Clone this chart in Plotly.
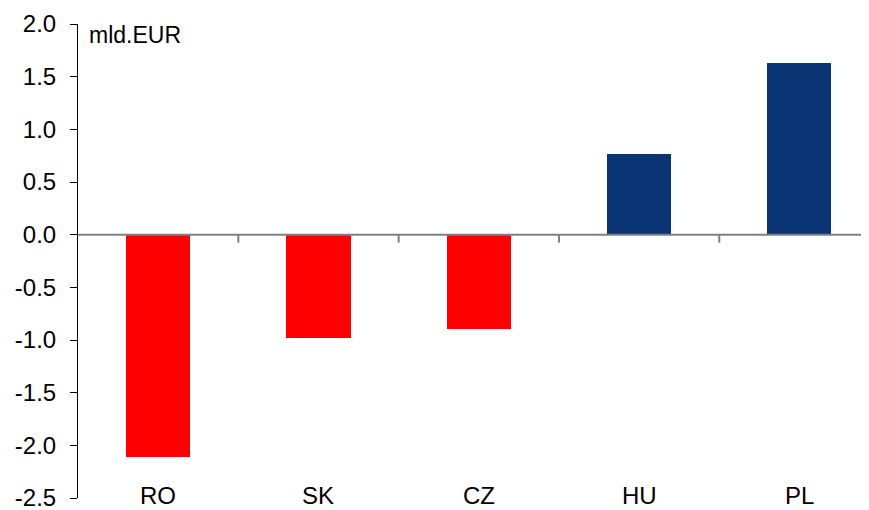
import plotly.graph_objects as go

categories = ["RO", "SK", "CZ", "HU", "PL"]
values = [-2.11, -0.98, -0.90, 0.77, 1.63]
y_ticks = [2.0, 1.5, 1.0, 0.5, 0.0, -0.5, -1.0, -1.5, -2.0, -2.5]
unit_label = "mld.EUR"

RED = "#FF0000"
NAVY = "#0A3474"
colors = [RED if v < 0 else NAVY for v in values]
FONT = "Arial, Liberation Sans, sans-serif"

fig = go.Figure()
fig.add_trace(go.Bar(
    x=list(range(len(categories))), y=values,
    marker=dict(color=colors, line=dict(width=0)),
    width=0.4, showlegend=False,
))

# zero line with category separator ticks
shapes = [dict(type="line", xref="paper", yref="y", x0=0, x1=1, y0=0, y1=0,
               line=dict(color="#808080", width=2), layer="above")]
for i in range(len(categories) - 1):
    shapes.append(dict(type="line", xref="x", yref="y", x0=i + 0.5, x1=i + 0.5,
                       ysizemode="pixel", yanchor=0, y0=0, y1=-8,
                       line=dict(color="#808080", width=2)))

annotations = [dict(x=i, y=y_ticks[-1], xref="x", yref="y", text=c, showarrow=False,
                    yanchor="middle", yshift=3,
                    font=dict(family=FONT, size=24, color="#000"))
               for i, c in enumerate(categories)]
annotations.append(dict(x=0.011, y=1.0, xref="paper", yref="paper", text=unit_label,
                        showarrow=False, xanchor="left", yanchor="top", yshift=4,
                        font=dict(family=FONT, size=23, color="#000")))

fig.update_layout(
    width=861, height=502,
    margin=dict(l=70, r=0, t=16, b=12),
    paper_bgcolor="white", plot_bgcolor="white",
    shapes=shapes, annotations=annotations,
    xaxis=dict(range=[-0.5, 4.434], showticklabels=False, showgrid=False,
               zeroline=False, showline=False, ticks=""),
    yaxis=dict(range=[y_ticks[-1], y_ticks[0]], tickvals=y_ticks,
               ticktext=[f"{v:.1f}" for v in y_ticks],
               showgrid=False, zeroline=False, showline=True, linecolor="#000",
               linewidth=1, ticks="outside", ticklen=7, tickcolor="#000",
               ticklabelstandoff=9, ticklabeloverflow="allow",
               tickfont=dict(family=FONT, size=24, color="#000")),
    bargap=0,
)

fig.write_html("out.html")
